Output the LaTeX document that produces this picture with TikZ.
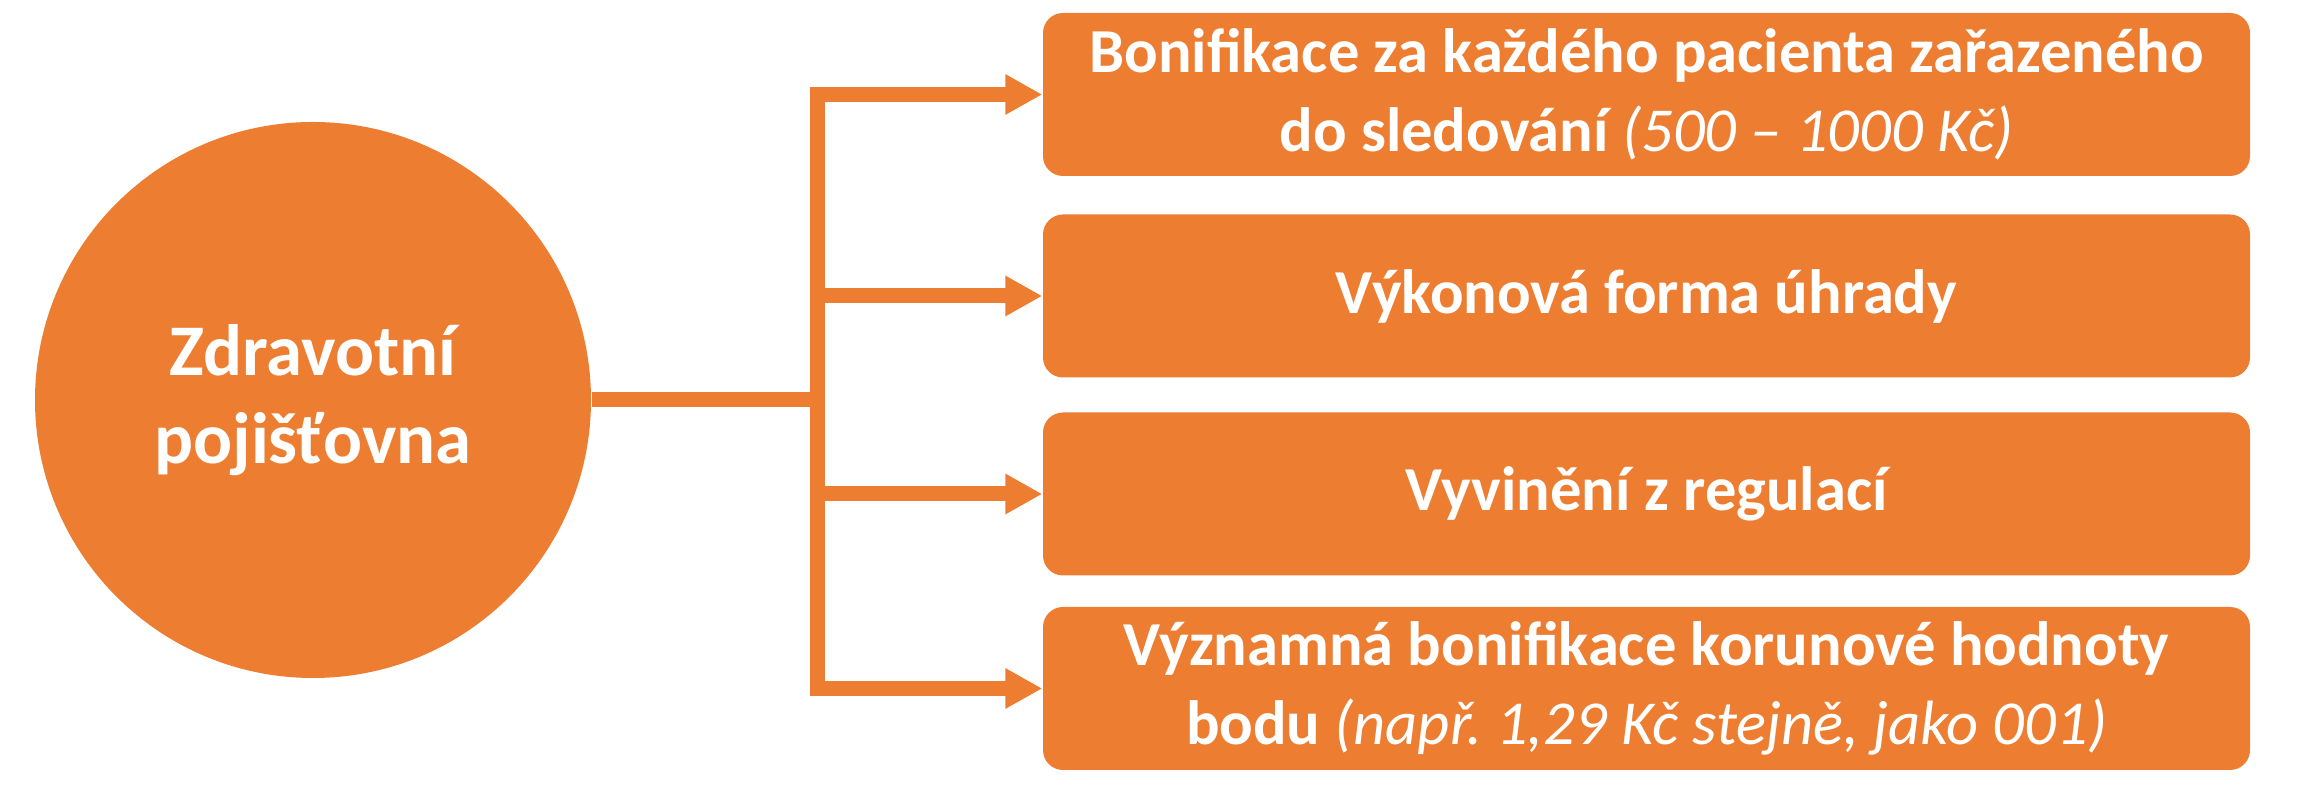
\documentclass[tikz,border=0pt]{standalone}
\usepackage{fontspec}
\setmainfont{Carlito}
\frenchspacing
\usetikzlibrary{arrows.meta}
\definecolor{pojorange}{HTML}{ED7D31}

\begin{document}
\begin{tikzpicture}[
        box/.style={fill=pojorange, rounded corners=0.2cm, minimum width=12.07cm, minimum height=1.63cm,
            inner sep=0pt, text=white, align=center, font=\fontsize{17.8}{22.4}\selectfont\bfseries},
        link/.style={draw=pojorange, line width=0.15cm},
        tip/.style={-{Triangle[length=0.37cm, width=0.38cm]}}
    ]
        \useasboundingbox (0,0) rectangle (23.12,8);

        \node[circle, fill=pojorange, minimum size=5.56cm, inner sep=0pt, text=white, align=center,
            font=\fontsize{20.7}{25.2}\selectfont\bfseries] (pojistovna) at (3.13,4.0) {Zdravotní\\pojišťovna};

        \node[box] (bonus) at (16.465,7.055) {Bonifikace za každého pacienta zařazeného\\do sledování {\mdseries\itshape (500 – 1000 Kč)}};
        \node[box] (vykon) at (16.465,5.04) {Výkonová forma úhrady};
        \node[box] (regul) at (16.465,3.06) {Vyvinění z regulací};
        \node[box] (hodnota) at (16.465,1.115) {Významná bonifikace korunové hodnoty\\bodu {\mdseries\itshape (např. 1,29 Kč stejně, jako 001)}};

        \coordinate (fork) at (8.17,4.0);
        \draw[link] (pojistovna.east) -- (fork);
        \draw[link, line cap=rect] (fork |- bonus.west) -- (fork |- hodnota.west);

        \foreach \target in {bonus, vykon, regul, hodnota}
            \draw[link, tip] (fork |- \target.west) -- (\target.west);

\end{tikzpicture}
\end{document}
